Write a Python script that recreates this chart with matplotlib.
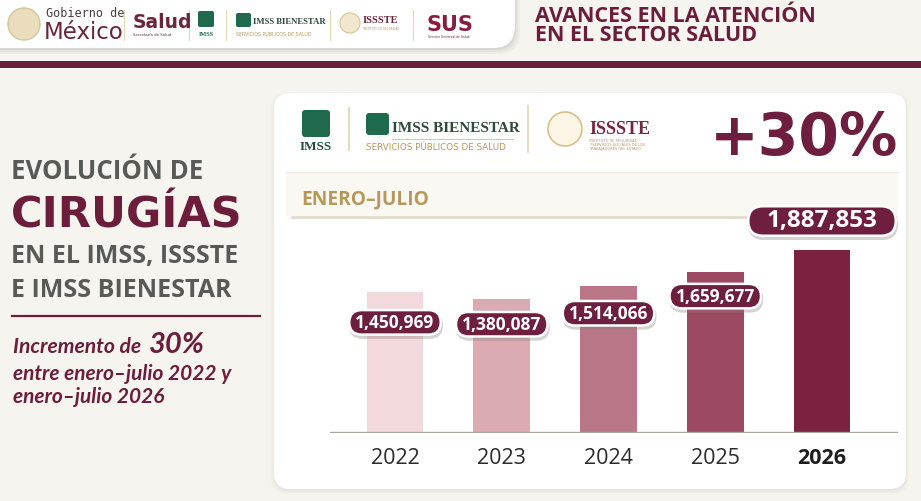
import matplotlib
matplotlib.use("Agg")
import matplotlib.pyplot as plt
from matplotlib.patches import FancyBboxPatch, Rectangle, Circle
import numpy as np

# ---------------- data ----------------
years = ["2022", "2023", "2024", "2025", "2026"]
cirugias = [1450969, 1380087, 1514066, 1659677, 1887853]
value_labels = ["1,450,969", "1,380,087", "1,514,066", "1,659,677", "1,887,853"]
bar_colors = ["#F3D8DC", "#DBAAB3", "#B97687", "#9C4A62", "#7B2241"]

W, H, DPI = 921, 501, 100
MAROON = "#6E1E3F"
GRAY_TXT = "#585A56"
GOLD = "#B5985A"
GREEN = "#1F6A4C"
BG = "#F6F4EF"

HEAD = "Open Sans"
WIDE = "DejaVu Sans"

fig = plt.figure(figsize=(W / DPI, H / DPI), dpi=DPI)
fig.patch.set_facecolor(BG)

# background overlay axes in pixel coordinates (y downward)
bg = fig.add_axes([0, 0, 1, 1], zorder=0)
bg.set_xlim(0, W)
bg.set_ylim(H, 0)
bg.axis("off")
bg.patch.set_alpha(0)

def rbox(ax, x0, y0, x1, y1, r, fc, ec="none", lw=0, z=1, alpha=1.0):
    p = FancyBboxPatch((x0, y0), x1 - x0, y1 - y0,
                       boxstyle=f"round,pad=0,rounding_size={r}",
                       fc=fc, ec=ec, lw=lw, zorder=z, alpha=alpha,
                       mutation_aspect=1)
    ax.add_patch(p)
    return p

# ---------------- header ----------------
for k, a in enumerate([0.05, 0.04, 0.03]):
    rbox(bg, -30, -30, 516 + k * 2, 50 + k * 2, 22, "#000000", z=1, alpha=a)
rbox(bg, -30, -30, 515, 48, 22, "white", z=2)
bg.add_patch(Rectangle((0, 60.5), W, 7.5, fc="#6A1E3D", ec="none", zorder=2))

# header logos (simplified)
bg.add_patch(Circle((24, 24), 16, fc="#E9DDBE", ec="#D6C49A", lw=1, zorder=3))
bg.text(46, 17, "Gobierno de", fontsize=8.5, color="#4E3A3F", family="DejaVu Sans Mono",
        va="baseline", zorder=4)
bg.text(44, 39, "México", fontsize=16.5, color="#6B2438", family="Liberation Sans Narrow",
        va="baseline", zorder=4)
for xd in [124, 189, 226, 330, 413]:
    bg.plot([xd, xd], [10, 40], color="#E2D6BC", lw=0.8, zorder=3)
bg.text(133, 28, "Salud", fontsize=13.5, color="#6B2438", weight="bold",
        family="Liberation Sans Narrow", va="baseline", zorder=4)
bg.text(133, 36, "Secretaría de Salud", fontsize=2.8, color="#6B2438", va="baseline", zorder=4)
rbox(bg, 198, 11, 214, 27, 2, GREEN, z=3)
bg.text(206, 36, "IMSS", fontsize=4.5, color=GREEN, family="Liberation Serif", weight="bold",
        ha="center", va="baseline", zorder=4)
rbox(bg, 236, 13, 251, 27, 2, GREEN, z=3)
bg.text(253, 24, "IMSS BIENESTAR", fontsize=6.2, color="#2E4A3A", family="Liberation Serif",
        weight="bold", va="baseline", zorder=4)
bg.text(236, 36, "SERVICIOS PÚBLICOS DE SALUD", fontsize=3.4, color=GOLD, va="baseline", zorder=4)
bg.add_patch(Circle((350, 23), 10, fc="#F1E7CF", ec="#D9C593", lw=0.8, zorder=3))
bg.text(363, 23, "ISSSTE", fontsize=7.5, color="#6B2438", family="Liberation Serif",
        weight="bold", va="baseline", zorder=4)
bg.text(363, 30, "INSTITUTO DE SEGURIDAD", fontsize=2.0, color=GOLD, va="baseline", zorder=4)
bg.text(426, 31, "SUS", fontsize=15, color="#8A1D3F", weight="bold", family=WIDE,
        va="baseline", zorder=4)
bg.text(428, 38, "Servicio Universal de Salud", fontsize=2.2, color="#6B2438", va="baseline", zorder=4)

bg.text(535, 22, "AVANCES EN LA ATENCIÓN", fontsize=15.5, color="#6B1D3B", weight="bold",
        family=HEAD, va="baseline", zorder=4)
bg.text(535, 41, "EN EL SECTOR SALUD", fontsize=15.5, color="#6B1D3B", weight="bold",
        family=HEAD, va="baseline", zorder=4)

# ---------------- left text ----------------
bg.text(11, 179, "EVOLUCIÓN DE", fontsize=18.5, color=GRAY_TXT, weight="bold", family=HEAD,
        va="baseline", zorder=4)
bg.text(11, 228, "CIRUGÍAS", fontsize=31, color="#6B1D3B", weight="bold", family=WIDE,
        va="baseline", zorder=4)
bg.text(11, 263, "EN EL IMSS, ISSSTE", fontsize=18, color=GRAY_TXT, weight="bold", family=HEAD,
        va="baseline", zorder=4)
bg.text(11, 297, "E IMSS BIENESTAR", fontsize=18, color=GRAY_TXT, weight="bold", family=HEAD,
        va="baseline", zorder=4)
bg.plot([12, 260], [316, 316], color="#6B1D3B", lw=1.6, zorder=4)
bg.text(13, 353, "Incremento de ", fontsize=15.2, color="#6B1D3B", weight="bold",
        style="italic", family="Lato", va="baseline", zorder=4)
bg.text(149, 353, "30%", fontsize=21, color="#6B1D3B", weight="bold",
        style="italic", family="Lato", va="baseline", zorder=4)
bg.text(13, 380, "entre enero–julio 2022 y", fontsize=15, color="#6B1D3B", weight="bold",
        style="italic", family="Lato", va="baseline", zorder=4)
bg.text(13, 403, "enero–julio 2026", fontsize=15, color="#6B1D3B", weight="bold",
        style="italic", family="Lato", va="baseline", zorder=4)

# ---------------- card ----------------
for k, a in enumerate([0.035, 0.03, 0.025, 0.02]):
    rbox(bg, 274 - k, 93 - k + 2, 906 + k, 489 + k + 2, 16, "#7A6A50", z=1, alpha=a)
rbox(bg, 274, 93, 906, 489, 16, "white", z=2)

# card logos
rbox(bg, 302, 110, 330, 137, 3, GREEN, z=3)
bg.text(316, 150, "IMSS", fontsize=9.5, color="#1E4F3A", family="Liberation Serif",
        weight="bold", ha="center", va="baseline", zorder=4)
bg.plot([349, 349], [108, 150], color="#E2D3AE", lw=1.2, zorder=3)
rbox(bg, 366, 113, 389, 135, 3, GREEN, z=3)
bg.text(392, 132, "IMSS BIENESTAR", fontsize=11, color="#2E4A3A", family="Liberation Serif",
        weight="bold", va="baseline", zorder=4)
bg.plot([392, 513], [139, 139], color="#D9C9A0", lw=0.8, zorder=3)
bg.text(366, 150, "SERVICIOS PÚBLICOS DE SALUD", fontsize=6.3, color=GOLD, va="baseline", zorder=4)
bg.plot([528, 528], [106, 152], color="#E2D3AE", lw=1.2, zorder=3)
bg.add_patch(Circle((565, 129), 17, fc="#FBF5E6", ec="#D9C08A", lw=1.2, zorder=3))
bg.text(589, 134, "ISSSTE", fontsize=13, color="#7A2340", family="Liberation Serif",
        weight="bold", va="baseline", zorder=4)
for i, s in enumerate(["INSTITUTO DE SEGURIDAD", "Y SERVICIOS SOCIALES DE LOS",
                       "TRABAJADORES DEL ESTADO"]):
    bg.text(589, 142 + i * 4, s, fontsize=2.6, color=GOLD, va="baseline", zorder=4)

bg.text(710, 155, "+30%", fontsize=42, color=MAROON, weight="bold", family=WIDE,
        va="baseline", zorder=4)

# ENERO-JULIO band
bg.add_patch(Rectangle((286, 172), 612, 44, fc="#FAF8F3", ec="none", zorder=3))
bg.plot([286, 898], [172, 172], color="#F1ECE0", lw=1.0, zorder=3)
bg.plot([292, 895], [216.5, 216.5], color="#E3DBCB", lw=2.0, zorder=3)
bg.text(301, 204, "ENERO–JULIO", fontsize=13.8, color=GOLD, weight="bold", family=HEAD,
        va="baseline", zorder=4)

# ---------------- bar chart ----------------
base_px, top_px = 433, 200
left_px, right_px = 330, 898
ax = fig.add_axes([left_px / W, (H - base_px) / H, (right_px - left_px) / W,
                   (base_px - top_px) / H], zorder=2)
ax.patch.set_alpha(0)
px_per_unit = (822 - 395) / 4.0
ax.set_xlim(-(395 - left_px) / px_per_unit, 4 + (right_px - 822) / px_per_unit)
val_per_px = cirugias[-1] / (433 - 250)
ax.set_ylim(0, (base_px - top_px) * val_per_px)

x = np.arange(len(years))
ax.bar(x, cirugias, width=0.53, color=bar_colors, zorder=2)
ax.axhline(0, color="#A9A49D", lw=2.4, zorder=3)
for sp in ax.spines.values():
    sp.set_visible(False)
ax.set_yticks([])
ax.set_xticks(x)
ax.set_xticklabels(years)
ax.tick_params(axis="x", length=0, pad=11)
for i, lab in enumerate(ax.get_xticklabels()):
    lab.set_fontfamily(HEAD)
    lab.set_fontsize(15.5)
    lab.set_color("#2A2A2A")
    if i == len(years) - 1:
        lab.set_fontweight("bold")
        lab.set_color("#1E1E1E")

# pills on overlay axes in pixel coordinates
top = fig.add_axes([0, 0, 1, 1], zorder=5)
top.set_xlim(0, W)
top.set_ylim(H, 0)
top.axis("off")
top.patch.set_alpha(0)

offsets = [30, 25, 27, 24, -29]
for i, (v, lab) in enumerate(zip(cirugias, value_labels)):
    dx, dy = ax.transData.transform((i, v))
    cx, cy = dx, H - dy + offsets[i]
    if i == len(years) - 1:
        w, h, fs = 150, 32, 17.5
    else:
        w, h, fs = 94, 27, 12.5
    rbox(top, cx - w / 2 + 1, cy - h / 2 + 3, cx + w / 2 + 1, cy + h / 2 + 3, h / 2,
         "#8C8078", z=1, alpha=0.35)
    rbox(top, cx - w / 2, cy - h / 2, cx + w / 2, cy + h / 2, h / 2, "white", z=2)
    rbox(top, cx - w / 2 + 2.5, cy - h / 2 + 2.5, cx + w / 2 - 2.5, cy + h / 2 - 2.5,
         (h - 5) / 2, MAROON, z=3)
    top.text(cx, cy + 0.5, lab, fontsize=fs, color="white", weight="bold", family=HEAD,
             ha="center", va="center", zorder=4)

fig.savefig("out.png", dpi=DPI, facecolor=fig.get_facecolor())
